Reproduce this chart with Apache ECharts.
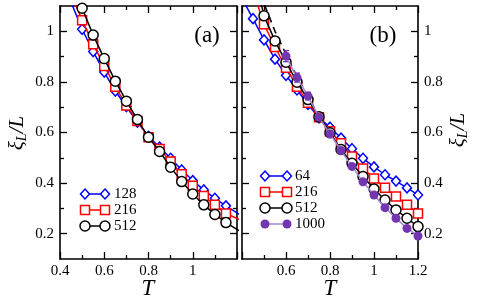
<!DOCTYPE html>
<html><head><meta charset="utf-8">
<script src="https://cdn.jsdelivr.net/npm/echarts@6/dist/echarts.min.js"></script>
<style>html,body{margin:0;padding:0;background:#fff}#c{width:480px;height:304px}</style>
</head><body><div id="c"></div>
<script>
// ---------- data ----------
const T_A = [0.45,0.5,0.55,0.6,0.65,0.7,0.75,0.8,0.85,0.9,0.95,1.0,1.05,1.1,1.15,1.25];
const A128 = [1.115,1.008,0.920,0.839,0.764,0.702,0.641,0.585,0.542,0.498,0.452,0.410,0.373,0.340,0.310,0.255];
const A216 = [1.15,1.044,0.949,0.863,0.781,0.707,0.645,0.581,0.535,0.485,0.435,0.390,0.349,0.314,0.280,0.24];
const A512 = [1.2,1.091,0.985,0.892,0.803,0.724,0.651,0.581,0.525,0.463,0.406,0.357,0.314,0.276,0.244,0.19];

const T_B = [0.4,0.45,0.5,0.55,0.6,0.65,0.7,0.75,0.8,0.85,0.9,0.95,1.0,1.05,1.1,1.15,1.2];
const B64  = [1.13,1.050,0.966,0.890,0.826,0.768,0.711,0.658,0.621,0.578,0.536,0.498,0.464,0.433,0.408,0.381,0.353];
const B216 = [null,1.16,1.028,0.938,0.856,0.781,0.718,0.660,0.605,0.558,0.505,0.458,0.418,0.382,0.347,0.314,0.280];
const B512 = [null,1.25,1.061,0.962,0.878,0.799,0.730,0.662,0.599,0.533,0.478,0.426,0.377,0.333,0.294,0.261,0.228];
const B1000 = [null,null,null,null,0.902,0.817,0.744,0.660,0.595,0.529,0.466,0.405,0.353,0.303,0.261,0.221,0.191];
const B1000err = [null,null,null,null,0.022,0.018,0.015,0.012,0.010,0.009,0.008,0.007,0.006,0.006,0.005,0.005,0.005];
const BDash = [null,1.24,1.11,1.0,0.91,0.82,0.74,0.665,0.60,null,null,null,null,null,null,null,null];

const X_TICKS = {min:0.4, max:1.2, interval:0.2};
const Y_MAJOR = [0.2,0.4,0.6,0.8,1.0];
const Y_MINOR = [0.3,0.5,0.7,0.9];
const LEG_A = ['128','216','512'];
const LEG_B = ['64','216','512','1000'];

// ---------- helpers ----------
const FONT = 'Liberation Serif';
const fmt = v => String(Math.round(v*10)/10);
const pairs = (xs, ys) => xs.map((x,i)=>[x, ys[i]]).filter(p=>p[1]!=null);

function xAxis(grid, pos, labels, hide) {
  return {
    type:'value', gridIndex:grid, position:pos, min:X_TICKS.min, max:X_TICKS.max, interval:X_TICKS.interval,
    axisLine:{show:true, onZero:false, lineStyle:{color:'#000', width:1.6}},
    axisTick:{show:true, inside:true, length:7, lineStyle:{color:'#000', width:1.3}},
    minorTick:{show:true, splitNumber:2, length:4, lineStyle:{color:'#000', width:1.3}},
    splitLine:{show:false}, minorSplitLine:{show:false},
    axisLabel:{show:labels, margin:5, color:'#000', fontFamily:FONT, fontSize:15,
      formatter: v => (hide.some(h=>Math.abs(h-v)<1e-6) ? '' : fmt(v))}
  };
}
function yAxis(grid, pos, major, labels) {
  return {
    type:'value', gridIndex:grid, position:pos, min:0.1, max:1.1,
    axisLine:{show:major, onZero:false, lineStyle:{color:'#000', width:1.6}},
    axisTick:{show:true, inside:true, length: major?7:4, customValues: major?Y_MAJOR:Y_MINOR,
      lineStyle:{color:'#000', width:1.3}},
    splitLine:{show:false},
    axisLabel:{show:labels, customValues:Y_MAJOR, margin:6, color:'#000', fontFamily:FONT, fontSize:15,
      formatter: v => fmt(v)}
  };
}

const STY = {
  blue:  {color:'#0000ff', symbol:'diamond', size:[9,10]},
  red:   {color:'#ff0000', symbol:'rect', size:9},
  black: {color:'#000000', symbol:'circle', size:10},
  purple:{color:'#7436b0', line:'#a385d6', symbol:'circle', size:9, fill:true}
};
function lineSeries(name, xi, yi, data, s, z) {
  return {
    type:'line', name:name, xAxisIndex:xi, yAxisIndex:yi, data:data, clip:true, z:z,
    symbol:s.symbol, symbolSize:s.size, showAllSymbol:true,
    lineStyle:{color:s.line||s.color, width:1.5},
    itemStyle:{color: s.fill ? s.color : '#fff', borderColor:s.color, borderWidth: s.fill?0:1.5},
    emphasis:{disabled:true}, animation:false
  };
}

const series = [
  lineSeries('128', 0, 0, pairs(T_A, A128), STY.blue, 2),
  lineSeries('216a', 0, 0, pairs(T_A, A216), STY.red, 3),
  lineSeries('512a', 0, 0, pairs(T_A, A512), STY.black, 4),
  lineSeries('64', 2, 6, pairs(T_B, B64), STY.blue, 2),
  lineSeries('216b', 2, 6, pairs(T_B, B216), STY.red, 3),
  lineSeries('512b', 2, 6, pairs(T_B, B512), STY.black, 4),
  {type:'line', xAxisIndex:2, yAxisIndex:6, data:pairs(T_B, BDash), symbol:'none', clip:true, z:4,
   lineStyle:{color:'#000', width:1.6, type:[7,5]}, animation:false},
  lineSeries('1000', 2, 6, pairs(T_B, B1000), STY.purple, 6),
  {type:'custom', xAxisIndex:2, yAxisIndex:6, clip:true, z:6, animation:false,
   data: T_B.map((t,i)=>[t, B1000[i], B1000err[i]]).filter(d=>d[1]!=null),
   renderItem:(params, api) => {
     const x=api.value(0), y=api.value(1), e=api.value(2);
     const a=api.coord([x,y+e]), b=api.coord([x,y-e]);
     const st={stroke:STY.purple.color, lineWidth:1.3};
     return {type:'group', children:[
       {type:'line', shape:{x1:a[0],y1:a[1],x2:b[0],y2:b[1]}, style:st},
       {type:'line', shape:{x1:a[0]-3,y1:a[1],x2:a[0]+3,y2:a[1]}, style:st},
       {type:'line', shape:{x1:b[0]-3,y1:b[1],x2:b[0]+3,y2:b[1]}, style:st}
     ]};
   }}
];

// legends (layout only)
function legend(x1, x2, xt, y0, dy, names, styles) {
  const out = [];
  names.forEach((n,i)=>{
    const s = styles[i], y = y0 + i*dy;
    out.push({type:'line', shape:{x1:x1,y1:y,x2:x2,y2:y}, style:{stroke:s.line||s.color, lineWidth:1.5}, z:10});
    [x1,x2].forEach(cx=>{
      const sz = Array.isArray(s.size)? s.size : [s.size, s.size];
      let shape;
      if (s.symbol==='circle') out.push({type:'circle', shape:{cx:cx, cy:y, r:sz[0]/2}, style:{fill:s.fill?s.color:'#fff', stroke:s.fill?null:s.color, lineWidth:1.5}, z:11});
      else if (s.symbol==='rect') out.push({type:'rect', shape:{x:cx-sz[0]/2, y:y-sz[1]/2, width:sz[0], height:sz[1]}, style:{fill:'#fff', stroke:s.color, lineWidth:1.5}, z:11});
      else out.push({type:'polygon', shape:{points:[[cx,y-sz[1]/2],[cx+sz[0]/2,y],[cx,y+sz[1]/2],[cx-sz[0]/2,y]]}, style:{fill:'#fff', stroke:s.color, lineWidth:1.5}, z:11});
    });
    out.push({type:'text', x:xt, y:y, style:{text:n, fill:'#000', font:'15px "Liberation Serif"', verticalAlign:'middle', align:'left'}, z:11});
  });
  return out;
}

const ylabel = (cx, cy) => ({type:'text', x:cx, y:cy, rotation:Math.PI/2, z:12,
  style:{text:'{a|ξ}{s|L}{a|/L}', align:'center', verticalAlign:'middle',
    rich:{a:{fontFamily:FONT, fontStyle:'italic', fontSize:21, fill:'#000'},
          s:{fontFamily:FONT, fontStyle:'italic', fontSize:14, fill:'#000', padding:[10,0,0,0]}}}});
const txt = (x, y, t, size, italic) => ({type:'text', x:x, y:y, z:12,
  style:{text:t, fill:'#000', font:(italic?'italic ':'')+size+'px "Liberation Serif"', align:'center', verticalAlign:'middle'}});

const chart = echarts.init(document.getElementById('c'), null, {renderer:'canvas'});
chart.setOption({
  backgroundColor:'#fff', animation:false,
  grid:[{left:60, top:6, width:177, height:253}, {left:242, top:6, width:176, height:253}],
  xAxis:[xAxis(0,'bottom',true,[1.2]), xAxis(0,'top',false,[]), xAxis(1,'bottom',true,[0.4]), xAxis(1,'top',false,[])],
  yAxis:[yAxis(0,'left',true,true), yAxis(0,'left',false,false), yAxis(0,'right',true,false), yAxis(0,'right',false,false),
         yAxis(1,'left',true,false), yAxis(1,'left',false,false), yAxis(1,'right',true,true), yAxis(1,'right',false,false)],
  series: series,
  graphic: [].concat(
    legend(85, 105, 114, 194, 16, LEG_A, [STY.blue, STY.red, STY.black]),
    legend(265, 287, 295, 176, 16, LEG_B, [STY.blue, STY.red, STY.black, STY.purple]),
    [ylabel(17, 133), ylabel(458, 130),
     txt(207, 36, '(a)', 23, false), txt(383, 36, '(b)', 23, false),
     txt(148, 289, 'T', 23, true), txt(330, 289, 'T', 23, true)]
  )
});
</script></body></html>
